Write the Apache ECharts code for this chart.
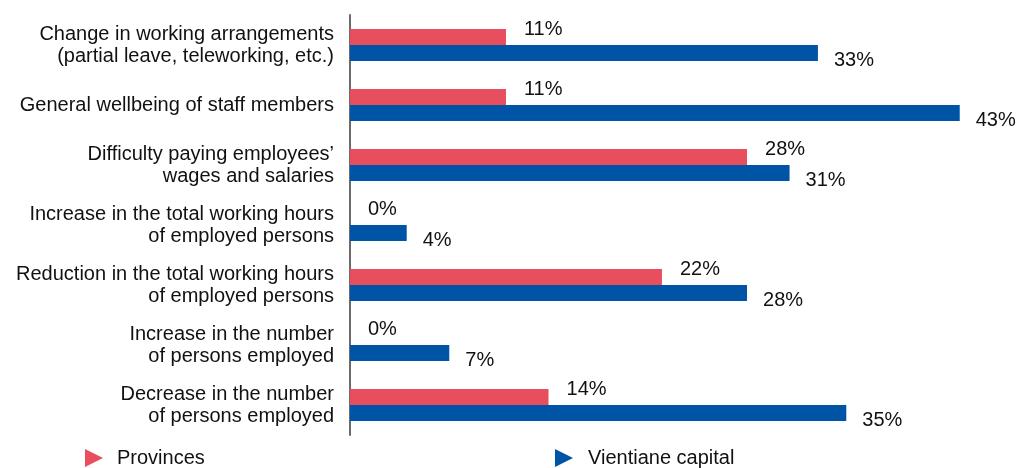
<!DOCTYPE html>
<html>
<head>
<meta charset="utf-8">
<script src="https://cdn.jsdelivr.net/npm/echarts@6/dist/echarts.min.js"></script>
<style>
  html, body { margin: 0; padding: 0; background: #fff; }
  #chart { width: 1021px; height: 468px; }
</style>
</head>
<body>
<div id="chart"></div>
<script>
// Datos
const categorias = [
  'Change in working arrangements\n(partial leave, teleworking, etc.)',
  'General wellbeing of staff members',
  'Difficulty paying employees\u2019\nwages and salaries',
  'Increase in the total working hours\nof employed persons',
  'Reduction in the total working hours\nof employed persons',
  'Increase in the number\nof persons employed',
  'Decrease in the number\nof persons employed'
];
const provincias = [11, 11, 28, 0, 22, 0, 14];
const vientiane = [33, 43, 31, 4, 28, 7, 35];

const triangulo = 'path://M0,0 L10,5 L0,10 Z';
const rojo = '#e84f5e';
const azul = '#0054a6';
const fuente = 'Liberation Sans, Arial, sans-serif';

const chart = echarts.init(document.getElementById('chart'), null, { renderer: 'canvas' });

chart.setOption({
  animation: false,
  textStyle: { fontFamily: fuente },
  grid: { left: 350, right: 40, top: 15, bottom: 33, containLabel: false },
  legend: [
    {
      data: ['Provinces'],
      left: 85, top: 448, padding: 0,
      icon: triangulo, itemWidth: 36, itemHeight: 18,
      textStyle: { fontSize: 20, color: '#111', fontFamily: fuente }
    },
    {
      data: ['Vientiane capital'],
      left: 555, top: 448, padding: 0,
      icon: triangulo, itemWidth: 38, itemHeight: 18,
      textStyle: { fontSize: 20, color: '#111', fontFamily: fuente }
    }
  ],
  xAxis: {
    type: 'value', min: 0, max: 44.5,
    show: false
  },
  yAxis: {
    type: 'category',
    inverse: true,
    data: categorias,
    axisLine: { show: true, lineStyle: { color: '#6b6b6b', width: 2 } },
    axisTick: { show: false },
    axisLabel: {
      margin: 16, fontSize: 20, lineHeight: 22, color: '#111',
      align: 'right', fontFamily: fuente
    }
  },
  series: [
    {
      name: 'Provinces', type: 'bar',
      data: provincias,
      barWidth: 16, barGap: '0%',
      itemStyle: { color: rojo },
      label: {
        show: true, position: 'right', distance: 18, offset: [0, -8],
        formatter: '{c}%', fontSize: 20, color: '#111', fontFamily: fuente
      }
    },
    {
      name: 'Vientiane capital', type: 'bar',
      data: vientiane,
      barWidth: 16,
      itemStyle: { color: azul },
      label: {
        show: true, position: 'right', distance: 16, offset: [0, 7],
        formatter: '{c}%', fontSize: 20, color: '#111', fontFamily: fuente
      }
    }
  ]
});
</script>
</body>
</html>
